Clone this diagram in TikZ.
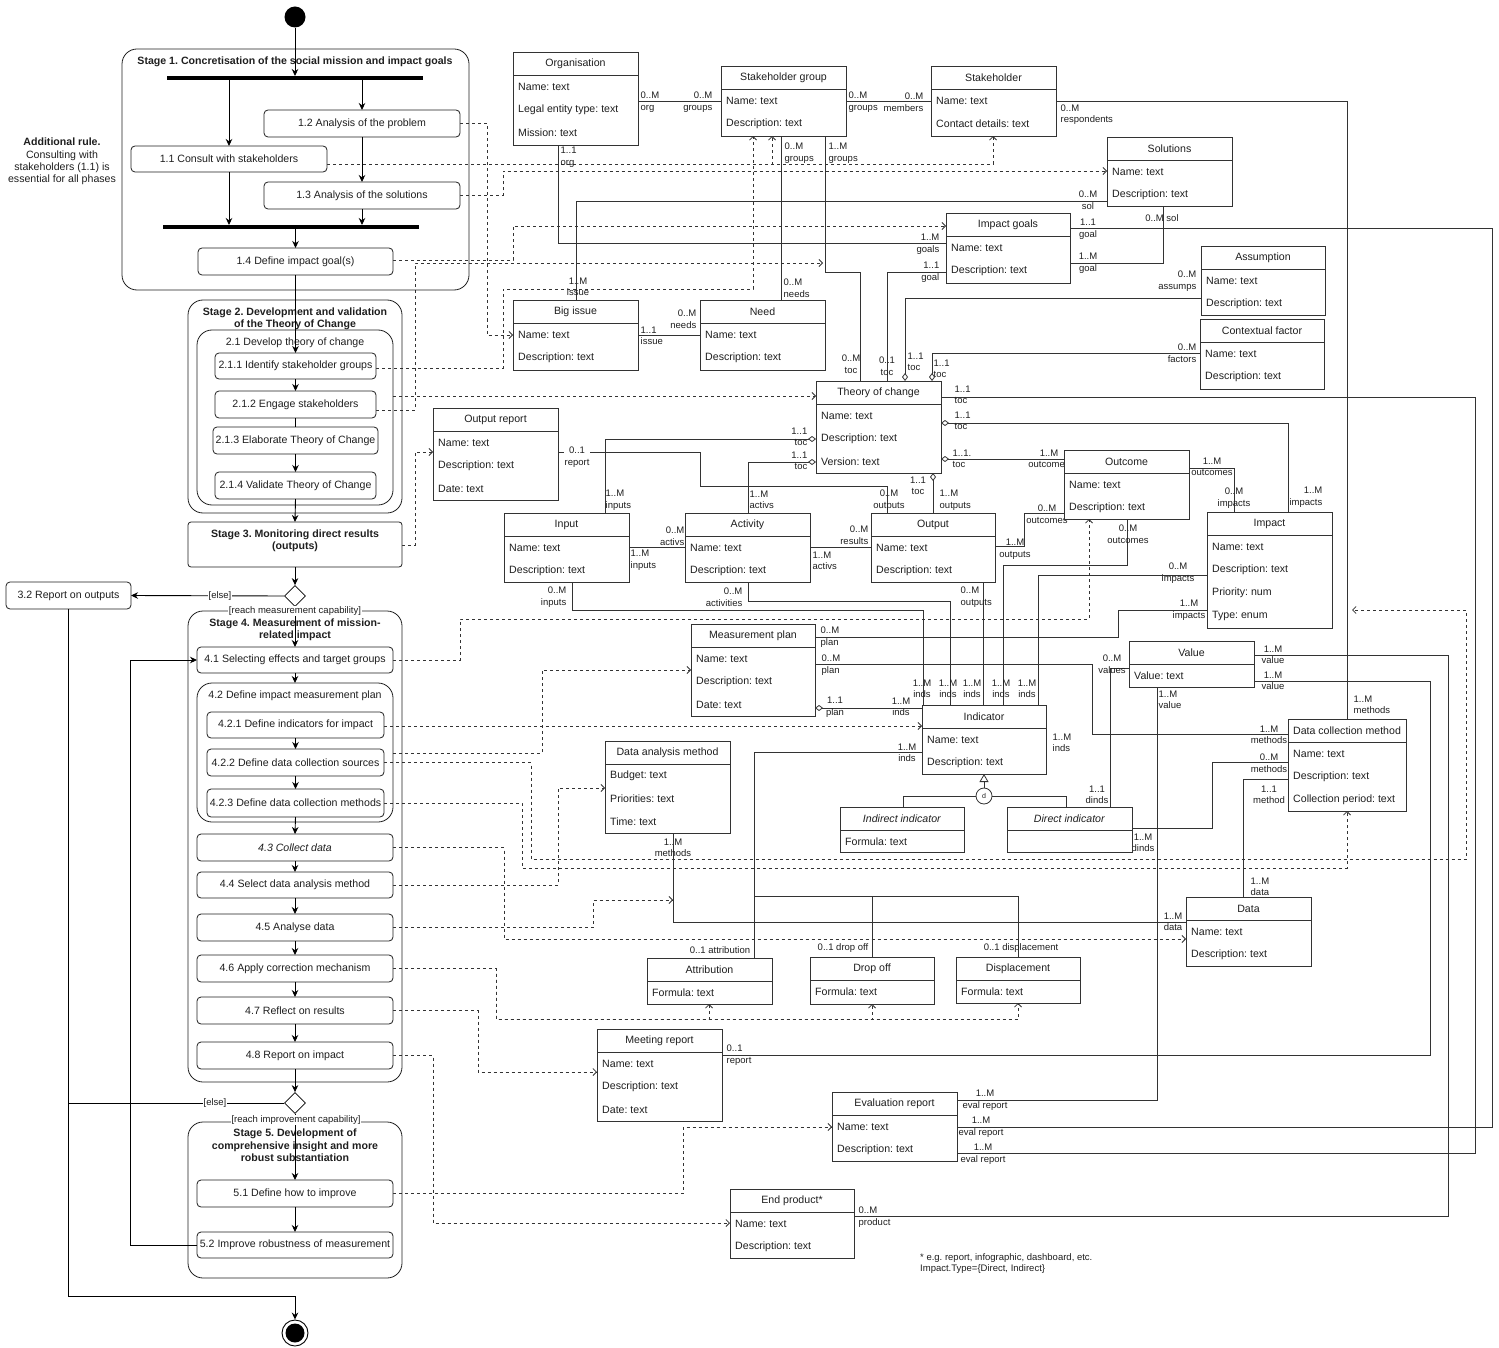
\documentclass[tikz,border=0pt]{standalone}
\usepackage{fontspec}
\setmainfont{Liberation Sans}
\usetikzlibrary{arrows.meta,shapes.geometric,calc}
\definecolor{ink}{HTML}{1F1F1F}
\definecolor{edge}{HTML}{333333}
\pgfdeclarelayer{background}
\pgfsetlayers{background,main}
\frenchspacing
\newcount\multcount
% multiplicity / role labels: west-, east- or centre-aligned
\newcommand\mlw[2]{\global\advance\multcount by 1\relax\node[mult,anchor=west,align=left] (ml\the\multcount) at (#1) {#2};}
\newcommand\mle[2]{\global\advance\multcount by 1\relax\node[mult,anchor=east,align=right] (ml\the\multcount) at (#1) {#2};}
\newcommand\mlc[2]{\global\advance\multcount by 1\relax\node[mult,align=center] (ml\the\multcount) at (#1) {#2};}
% class box: name, x1, y1, x2, y2, title
\newcommand\uclassbare[6]{%
  \node[cbox, minimum width={#4pt-#2pt}, minimum height={#5pt-#3pt}, anchor=north west] (#1) at (#2,#3) {};
  \draw[cline] ($(#1.north west)+(0,23)$) -- ($(#1.north east)+(0,23)$);
  \node[chead] (#1-t) at ($(#1.north)+(0,11.5)$) {#6};}
\newcommand\uclass[7]{\uclassbare{#1}{#2}{#3}{#4}{#5}{#6}%
  \foreach \cattrtext [count=\k] in {#7}{\node[cattr] (#1-a\k) at ($(#1.north west)+(5,{35+23*(\k-1)})$) {\cattrtext};}}
% activity box: [style] name, x1, y1, x2, y2, text
\newcommand\abox[7][act]{\node[#1, minimum width={#5pt-#3pt}, minimum height={#6pt-#4pt}, anchor=north west] (#2) at (#3,#4) {#7};}

\begin{document}
\begin{tikzpicture}[x=1pt,y=-1pt,
  every node/.style={text=ink, font=\fontsize{10.6pt}{12.3pt}\selectfont},
  cbox/.style={draw=edge, fill=white, line width=0.8pt, inner sep=0, outer sep=0},
  cline/.style={draw=edge, line width=0.8pt},
  chead/.style={inner sep=0},
  cattr/.style={anchor=west, inner sep=0},
  act/.style={draw=ink, fill=white, rounded corners=4pt, line width=0.8pt, inner sep=0, outer sep=0, align=center},
  stagebox/.style={draw=ink, rounded corners=15pt, line width=0.8pt, inner sep=0, outer sep=0},
  stagethree/.style={draw=ink, fill=white, rounded corners=3pt, line width=0.8pt, inner sep=0, outer sep=0},
  bar/.style={fill=black, inner sep=0, outer sep=0},
  stitle/.style={font=\bfseries\fontsize{10.6pt}{12.3pt}\selectfont, align=center, inner sep=0},
  mult/.style={font=\fontsize{9.5pt}{11.5pt}\selectfont, inner sep=0.5pt},
  guard/.style={font=\fontsize{9.5pt}{11pt}\selectfont, fill=white, inner sep=0.5pt},
  dec/.style={diamond, draw=black, fill=white, minimum width=21pt, minimum height=21pt, inner sep=0, aspect=1, line width=0.8pt},
  flow/.style={draw=black, line width=0.9pt, -{Stealth[length=7pt,width=6.5pt]}},
  flowline/.style={draw=black, line width=0.9pt},
  assoc/.style={draw=edge, line width=0.8pt},
  agg/.style={assoc, {Diamond[open,length=8pt,width=6pt]}-},
  dep/.style={draw=edge, line width=0.8pt, dash pattern=on 3pt off 3pt, -{Straight Barb[length=3.5pt,width=7pt]}},
  gen/.style={assoc, -{Triangle[open,length=8pt,width=9pt]}}
]
\useasboundingbox (0,0) rectangle (1499,1348);

% ---------------- activity diagram ----------------
\node[circle, fill=black, minimum size=21pt, inner sep=0] (init) at (295,17) {};
\abox[stagebox]{s1}{122}{49}{469}{290}{}
\node[stitle] (s1t) at (295,62) {Stage 1. Concretisation of the social mission and impact goals};
\abox[bar]{fork}{167}{76}{423}{80}{}
\abox{a12}{264}{110}{460}{137}{1.2 Analysis of the problem}
\abox{a11}{131}{146}{327}{172}{1.1 Consult with stakeholders}
\abox{a13}{264}{182}{460}{209}{1.3 Analysis of the solutions}
\abox[bar]{join}{163}{225}{419}{229}{}
\abox{a14}{198}{248}{393}{275}{1.4 Define impact goal(s)}
\node[align=center, font=\fontsize{10.6pt}{12.4pt}\selectfont] (rule) at (62,161.5) {\textbf{Additional rule.}\\Consulting with\\stakeholders (1.1) is\\essential for all phases};

\abox[stagebox]{s2}{188}{300}{402}{513}{}
\node[stitle] (s2t) at (295,319) {Stage 2. Development and validation\\of the Theory of Change};
\abox[stagebox]{g21}{197}{330}{393}{505}{}
\node[inner sep=0] (g21t) at (295,343) {2.1 Develop theory of change};
\abox{a211}{215}{353}{376}{379}{2.1.1 Identify stakeholder groups}
\abox{a212}{215}{391}{376}{418}{2.1.2 Engage stakeholders}
\abox{a213}{213}{427}{378}{454}{2.1.3 Elaborate Theory of Change}
\abox{a214}{215}{472}{376}{499}{2.1.4 Validate Theory of Change}
\abox[stagethree]{s3}{188}{522}{402}{567}{}
\node[stitle] (s3t) at (295,541) {Stage 3. Monitoring direct results\\(outputs)};
\node[dec] (dec1) at (295,596) {};
\abox{a32}{6}{582}{131}{609}{3.2 Report on outputs}

\abox[stagebox]{s4}{188}{611}{402}{1082}{}
\node[stitle] (s4t) at (295,629.5) {Stage 4. Measurement of mission-\\related impact};
\abox{a41}{197}{647}{393}{673}{4.1 Selecting effects and target groups}
\abox[stagebox]{g42}{197}{683}{393}{822}{}
\node[inner sep=0] (g42t) at (295,696) {4.2 Define impact measurement plan};
\abox{a421}{207}{712}{384}{738}{4.2.1 Define indicators for impact}
\abox{a422}{207}{749}{384}{776}{4.2.2 Define data collection sources}
\abox{a423}{207}{789}{384}{817}{4.2.3 Define data collection methods}
\abox{a43}{197}{834}{393}{861}{\textit{4.3 Collect data}}
\abox{a44}{197}{872}{393}{898}{4.4 Select data analysis method}
\abox{a45}{197}{914}{393}{941}{4.5 Analyse data}
\abox{a46}{197}{955}{393}{982}{4.6 Apply correction mechanism}
\abox{a47}{197}{997}{393}{1024}{4.7 Reflect on results}
\abox{a48}{197}{1042}{393}{1069}{4.8 Report on impact}
\node[dec] (dec2) at (295,1103) {};

\abox[stagebox]{s5}{188}{1122}{402}{1278}{}
\node[stitle] (s5t) at (295,1145.5) {Stage 5. Development of\\comprehensive insight and more\\robust substantiation};
\abox{a51}{197}{1180}{393}{1207}{5.1 Define how to improve}
\abox{a52}{197}{1232}{393}{1258}{5.2 Improve robustness of measurement}
\node[circle, draw=black, line width=0.9pt, minimum size=26pt, inner sep=0] (fin) at (295,1333) {};
\node[circle, fill=black, minimum size=19pt, inner sep=0] (finin) at (fin) {};

% control flow
\draw[flow] (init) -- (fork.north -| init);
\draw[flow] (fork.south -| a11.north) -- (a11.north);
\draw[flow] (fork.south -| a12.north) -- (a12.north);
\draw[flow] (a12) -- (a13);
\draw[flow] (a11.south) -- (join.north -| a11.south);
\draw[flow] (a13.south) -- (join.north -| a13.south);
\draw[flow] (join.south -| a14.north) -- (a14.north);
\draw[flow] (a14.south) -- (a211.north);
\draw[flow] (a211) -- (a212);
\draw[flowline] (a212) -- (a213);
\draw[flow] (a213) -- (a214);
\draw[flow] (a214.south) -- (s3.north);
\draw[flow] (s3.south) -- (dec1.north);
\draw[flow] (dec1.west) -- (a32.east);
\draw[flow] (dec1.south) -- (a41.north);
\draw[flow] (a41.south) -- (g42.north);
\draw[flow] (a421) -- (a422);
\draw[flow] (a422) -- (a423);
\draw[flow] (a423.south) -- (a43.north);
\draw[flow] (a43) -- (a44);
\draw[flow] (a44) -- (a45);
\draw[flow] (a45) -- (a46);
\draw[flow] (a46) -- (a47);
\draw[flow] (a47) -- (a48);
\draw[flow] (a48.south) -- (dec2.north);
\draw[flowline] (dec2.west) -- (dec2.west -| a32.south);
\draw[flow] (dec2.south) -- (a51.north);
\draw[flow] (a51) -- (a52);
\draw[flow] (a52.west) -- (a52.west -| 130,0) |- (a41.west);
\draw[flow] (a32.south) |- (295,1296) -- (fin.north);
\node[guard] (gelse1) at (220,596) {[else]};
\node[guard] (greach1) at (295,611) {[reach measurement capability]};
\node[guard] (gelse2) at (215,1103) {[else]};
\node[guard] (greach2) at (296,1120) {[reach improvement capability]};

% ---------------- class diagram ----------------
\uclass{org}{513}{52}{638}{145}{Organisation}{Name: text,Legal entity type: text,Mission: text}
\uclass{sg}{721}{66}{846}{136}{Stakeholder group}{Name: text,Description: text}
\uclass{sh}{931}{66}{1056}{136}{Stakeholder}{Name: text,Contact details: text}
\uclass{sol}{1107}{137}{1232}{206}{Solutions}{Name: text,Description: text}
\uclass{ig}{946}{213}{1070}{283}{Impact goals}{Name: text,Description: text}
\uclass{asm}{1201}{246}{1325}{315}{Assumption}{Name: text,Description: text}
\uclass{cf}{1200}{319}{1324}{389}{Contextual factor}{Name: text,Description: text}
\uclass{bi}{513}{300}{638}{370}{Big issue}{Name: text,Description: text}
\uclass{need}{700}{300}{825}{370}{Need}{Name: text,Description: text}
\uclass{toc}{816}{381}{941}{473}{Theory of change}{Name: text,Description: text,Version: text}
\uclass{orep}{433}{408}{558}{500}{Output report}{Name: text,Description: text,Date: text}
\uclass{oc}{1064}{450}{1189}{519}{Outcome}{Name: text,Description: text}
\uclass{imp}{1207}{512}{1332}{628}{Impact}{Name: text,Description: text,Priority: num,Type: enum}
\uclass{inp}{504}{513}{629}{582}{Input}{Name: text,Description: text}
\uclass{activ}{685}{513}{810}{582}{Activity}{Name: text,Description: text}
\uclass{outp}{871}{513}{995}{582}{Output}{Name: text,Description: text}
\uclass{mp}{691}{624}{815}{716}{Measurement plan}{Name: text,Description: text,Date: text}
\uclass{val}{1129}{641}{1254}{687}{Value}{Value: text}
\uclass{ind}{922}{705}{1046}{774}{Indicator}{Name: text,Description: text}
\uclass{dam}{605}{741}{730}{833}{Data analysis method}{Budget: text,Priorities: text,Time: text}
\uclass{dcm}{1288}{719}{1406}{811}{Data collection method}{Name: text,Description: text,Collection period: text}
\uclass{iind}{840}{807}{964}{852}{\textit{Indirect indicator}}{Formula: text}
\uclassbare{dind}{1007}{807}{1132}{852}{\textit{Direct indicator}}
\uclass{data}{1186}{897}{1311}{966}{Data}{Name: text,Description: text}
\uclass{attrib}{647}{958}{772}{1004}{Attribution}{Formula: text}
\uclass{drop}{810}{957}{934}{1004}{Drop off}{Formula: text}
\uclass{disp}{956}{957}{1080}{1003}{Displacement}{Formula: text}
\uclass{mr}{597}{1029}{722}{1121}{Meeting report}{Name: text,Description: text,Date: text}
\uclass{er}{832}{1092}{957}{1161}{Evaluation report}{Name: text,Description: text}
\uclass{ep}{730}{1189}{854}{1258}{End product*}{Name: text,Description: text}
\node[circle, draw=edge, fill=white, line width=0.8pt, minimum size=16pt, inner sep=0, font=\fontsize{7pt}{8pt}\selectfont] (gd) at (984,796) {d};
\node[anchor=north west, align=left, inner sep=0, font=\fontsize{9.5pt}{11.5pt}\selectfont] (note) at (920,1253) {* e.g. report, infographic, dashboard, etc.\\Impact.Type=\{Direct, Indirect\}};

\coordinate (sgtoc) at (823,263);
\coordinate (resp) at (1352,610);
\coordinate (damdata) at (673,900);

\begin{pgfonlayer}{background}
% associations
\draw[assoc] (org.east |- 0,101) -- (sg.west |- 0,101);
\draw[assoc] (sg.east |- 0,101) -- (sh.west |- 0,101);
\draw[assoc] (org.south -| 558,0) |- (ig.west |- 0,243);
\draw[assoc] (sg.south -| 781,0) -- (need.north -| 781,0);
\draw[assoc] (sg.south -| 825,0) |- (860,272) -- (toc.north -| 860,0);
\draw[assoc] (bi.north -| 576,0) |- (sol.west |- 0,201);
\draw[assoc] (sol.south -| 1163,0) |- (ig.east |- 0,263);
\draw[assoc] (ig.east |- 0,228) -| (1492,1127) -- (er.east |- 0,1127);
\draw[assoc] (ig.west |- 0,272) -| (toc.north -| 887,0);
\draw[assoc] (bi.east |- 0,335) -- (need.west |- 0,335);
\draw[assoc] (sh.east |- 0,101) -| (dcm.north -| 1347,0);
\draw[agg] (toc.north -| 905,0) |- (asm.west |- 0,298);
\draw[agg] (toc.north -| 932,0) |- (cf.west |- 0,353);
\draw[assoc] (toc.east |- 0,397) -| (1475,1153) -- (er.east |- 0,1153);
\draw[agg] (toc.east |- 0,423) -| (imp.north -| 1288,0);
\draw[agg] (toc.east |- 0,459) -- (oc.west |- 0,459);
\draw[agg] (toc.west |- 0,439) -| (inp.north -| 605,0);
\draw[agg] (toc.west |- 0,462) -| (activ.north -| 748,0);
\draw[agg] (toc.south -| 933,0) -- (outp.north -| 933,0);
\draw[assoc] (orep.east |- 0,452) -| (700,486) -| (outp.north -| 887,0);
\draw[assoc] (inp.east |- 0,547) -- (activ.west |- 0,547);
\draw[assoc] (activ.east |- 0,547) -- (outp.west |- 0,547);
\draw[assoc] (outp.east |- 0,546) -| (1024,513) -- (oc.west |- 0,513);
\draw[assoc] (oc.east |- 0,468) -| (imp.north -| 1234,0);
\draw[assoc] (inp.south -| 572,0) |- (923,610) -- (ind.north -| 923,0);
\draw[assoc] (activ.south -| 748,0) |- (950,601) -- (ind.north -| 950,0);
\draw[assoc] (outp.south -| 983,0) -- (ind.north -| 983,0);
\draw[assoc] (oc.south -| 1127,0) |- (1003,565) -- (ind.north -| 1003,0);
\draw[assoc] (imp.west |- 0,575) -| (ind.north -| 1038,0);
\draw[assoc] (imp.west |- 0,610) -| (1118,637) -- (mp.east |- 0,637);
\draw[assoc] (mp.east |- 0,664) -| (1092,734) -- (dcm.west |- 0,734);
\draw[agg] (mp.east |- 0,708) -- (ind.west |- 0,708);
\draw[assoc] (val.west |- 0,668) -| (dind.north -| 1110,0);
\draw[assoc] (val.south -| 1157,0) |- (er.east |- 0,1100);
\draw[assoc] (val.east |- 0,655) -| (1448,1216) -- (ep.east |- 0,1216);
\draw[assoc] (val.east |- 0,681) -| (1430,1055) -- (mr.east |- 0,1055);
\draw[assoc] (dind.east |- 0,828) -| (1212,762) -- (dcm.west |- 0,762);
\draw[assoc] (dcm.west |- 0,779) -| (data.north -| 1243,0);
\draw[assoc] (dam.south -| 673,0) |- (data.west |- 0,922);
\draw[assoc] (ind.west |- 0,752) -| (attrib.north -| 754,0);
\draw[assoc] (754,896) -| (disp.north -| 1018,0);
\draw[assoc] (872,896) -- (drop.north -| 872,0);
\draw[gen] (gd.north) -- (ind.south -| gd.north);
\draw[assoc] (gd.west) -| (iind.north -| 903,0);
\draw[assoc] (gd.east) -| (dind.north -| 1066,0);

% dependencies from activities to the data they use
\draw[dep] (a12.east) -| (487,335) -- (bi.west |- 0,335);
\draw[dep] (a11.east |- 0,164) -| (sg.south -| 772,0);
\draw[dep] (a11.east |- 0,164) -| (sh.south -| 993,0);
\draw[dep] (a13.east) -| (503,171) -- (sol.west |- 0,171);
\draw[dep] (a14.east |- 0,260) -| (513,226) -- (ig.west |- 0,226);
\draw[dep] (a211.east |- 0,368) -| (503,289) -| (sg.south -| 753,0);
\draw[dep] (a212.east |- 0,410) -| (415,263) -- (sgtoc);
\draw[dep] (g21.east |- 0,396) -- (toc.west |- 0,396);
\draw[dep] (s3.east |- 0,545) -| (415,452) -- (orep.west |- 0,452);
\draw[dep] (a41.east) -| (460,619) -| (oc.south -| 1089,0);
\draw[dep] (g42.east |- 0,753) -| (542,670) -- (mp.west |- 0,670);
\draw[dep] (a421.east |- 0,726) -- (ind.west |- 0,726);
\draw[dep] (a422.east) -| (531,859) -| (1466,610) -- (resp);
\draw[dep] (a423.east) -| (522,868) -| (dcm.south -| 1347,0);
\draw[dep] (a43.east) -| (504,939) -- (data.west |- 0,939);
\draw[dep] (a44.east) -| (558,788) -- (dam.west |- 0,788);
\draw[dep] (a45.east) -| (593,900) -- (damdata);
\draw[dep] (a46.east) -| (496,1019) -| (attrib.south -| 709,0);
\draw[dep] (a46.east) -| (496,1019) -| (drop.south -| 872,0);
\draw[dep] (a46.east) -| (496,1019) -| (disp.south -| 1018,0);
\draw[dep] (a47.east) -| (478,1072) -- (mr.west |- 0,1072);
\draw[dep] (a48.east) -| (433,1223) -- (ep.west |- 0,1223);
\draw[dep] (a51.east) -| (683,1127) -- (er.west |- 0,1127);

% multiplicities and roles
\mlw{640,102}{0..M\\org}
\mle{713,102}{0..M\\groups}
\mlw{848,102}{0..M\\groups}
\mle{924,102}{0..M\\members}
\mlw{1060,114.5}{0..M\\respondents}
\mlw{560,157}{1..1\\org}
\mlw{784,153}{0..M\\groups}
\mlw{828,153}{1..M\\groups}
\mlc{1088,200}{0..M\\sol}
\mlc{1162,218}{0..M sol}
\mlc{1088,229}{1..1\\goal}
\mlc{1088,263}{1..M\\goal}
\mle{940,244}{1..M\\goals}
\mle{940,272}{1..1\\goal}
\mlc{578,287}{1..M\\issue}
\mlw{783,288}{0..M\\needs}
\mle{697,319}{0..M\\needs}
\mlw{640,336}{1..1\\issue}
\mle{1197,281}{0..M\\assumps}
\mle{1197,353}{0..M\\factors}
\mlc{851,364}{0..M\\toc}
\mlc{887,366}{0..1\\toc}
\mlw{907,362}{1..1\\toc}
\mlw{933,369}{1..1\\toc}
\mlw{954,395}{1..1\\toc}
\mlw{954,421}{1..1\\toc}
\mlw{952,459}{1..1.\\toc}
\mle{808,437}{1..1\\toc}
\mle{808,461}{1..1\\toc}
\node[mult, fill=white, align=center] (rep) at (577,457) {0..1\\report};
\mlw{605,500}{1..M\\inputs}
\mlw{749,500}{1..M\\activs}
\mlc{889,500}{0..M\\outputs}
\mlc{918,486}{1..1\\toc}
\mlw{939,500}{1..M\\outputs}
\mlc{1049,459}{1..M\\outcomes}
\mlc{1212,467}{1..M\\outcomes}
\mlc{1234,498}{0..M\\impacts}
\mle{1323,497}{1..M\\impacts}
\mlc{1047,514}{0..M\\outcomes}
\mlc{1015,549}{1..M\\outputs}
\mle{685,536}{0..M\\activs}
\mlw{630,560}{1..M\\inputs}
\mle{869,535}{0..M\\results}
\mlw{812,561}{1..M\\activs}
\mle{567,597}{0..M\\inputs}
\mle{743,597}{0..M\\activities}
\mlw{960,597}{0..M\\outputs}
\mlc{1128,534}{0..M\\outcomes}
\mlc{1178,573}{0..M\\impacts}
\mlc{1189,610}{1..M\\impacts}
\mlw{820,637}{0..M\\plan}
\mlw{821,665}{0..M\\plan}
\mlc{922,689}{1..M\\inds}
\mlc{948,689}{1..M\\inds}
\mlc{972,689}{1..M\\inds}
\mlc{1001,689}{1..M\\inds}
\mlc{1027,689}{1..M\\inds}
\mlc{835,707}{1..1\\plan}
\mlc{901,707}{1..M\\inds}
\mlc{1112,664}{0..M\\values}
\mlc{1273,655}{1..M\\value}
\mlc{1273,681}{1..M\\value}
\mlw{1158,700}{1..M\\value}
\mlw{1353,705}{1..M\\methods}
\mlc{1269,735}{1..M\\methods}
\mlc{1269,763}{0..M\\methods}
\mlc{1269,795}{1..1\\method}
\mlw{1052,743}{1..M\\inds}
\mlc{1097,795}{1..1\\dinds}
\mlc{1143,843}{1..M\\dinds}
\mlw{1250,887}{1..M\\data}
\mlc{1173,922}{1..M\\data}
\mlc{673,848}{1..M\\methods}
\mlc{907,753}{1..M\\inds}
\mlc{720,950}{0..1 attribution}
\mlc{843,948}{0..1 drop off}
\mlc{1021,948}{0..1 displacement}
\mlw{726,1055}{0..1\\report}
\mlc{985,1100}{1..M\\eval report}
\mlc{981,1127}{1..M\\eval report}
\mlc{983,1154}{1..M\\eval report}
\mlw{858,1217}{0..M\\product}
\end{pgfonlayer}
\end{tikzpicture}
\end{document}
